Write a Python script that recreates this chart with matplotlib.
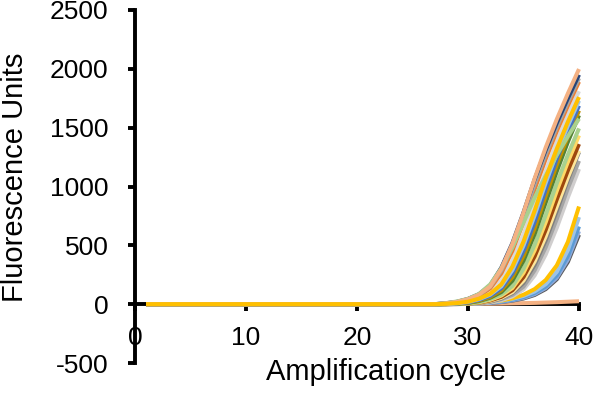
import matplotlib
matplotlib.use("Agg")
import matplotlib.pyplot as plt

# Amplifikationskurven (qPCR), Werte
cycles = list(range(1, 41))
baseline_1_27 = [0] * 27          # Zyklen 1-27 liegen alle bei ~0
# Zyklen 28-40 je Kurve
peach_1 = [7, 19, 42, 81, 151, 299, 514, 778, 1068, 1332, 1572, 1791, 1998]
navy_1 = [8, 20, 45, 85, 160, 310, 520, 780, 1060, 1310, 1540, 1750, 1950]
gray_1 = [7, 18, 41, 79, 148, 286, 488, 738, 1018, 1272, 1506, 1718, 1920]
orange_1 = [6, 16, 37, 71, 135, 262, 454, 699, 976, 1235, 1471, 1687, 1890]
green_1 = [9, 23, 45, 87, 168, 304, 484, 694, 905, 1092, 1268, 1427, 1576]
lightgray_1 = [4, 11, 27, 55, 103, 200, 370, 595, 865, 1130, 1380, 1605, 1810]
gold_1 = [3, 9, 21, 47, 88, 168, 320, 532, 794, 1072, 1321, 1550, 1760]
lightblue_1 = [3, 7, 19, 42, 81, 152, 290, 498, 754, 1032, 1285, 1517, 1729]
blue_1 = [2, 6, 16, 37, 71, 135, 262, 454, 699, 976, 1235, 1471, 1687]
olive_1 = [2, 5, 13, 31, 62, 118, 230, 410, 645, 920, 1185, 1425, 1645]
darkgreen_1 = [1, 4, 11, 27, 55, 103, 200, 370, 595, 865, 1130, 1380, 1605]
green_2 = [1, 3, 8, 19, 44, 82, 155, 301, 504, 757, 1028, 1271, 1494]
gold_2 = [1, 3, 7, 16, 37, 73, 137, 267, 457, 697, 964, 1210, 1434]
brown_1 = [1, 2, 6, 13, 32, 62, 118, 231, 406, 632, 891, 1137, 1361]
yellow_1 = [1, 2, 5, 11, 27, 54, 103, 201, 363, 577, 830, 1079, 1304]
darkgray_1 = [0, 1, 4, 10, 23, 49, 95, 181, 333, 542, 793, 1055, 1292]
gray_2 = [0, 1, 3, 7, 19, 42, 79, 149, 288, 484, 725, 986, 1218]
lightgray_2 = [0, 1, 2, 6, 15, 34, 66, 126, 244, 422, 650, 908, 1149]
lightblue_2 = [1, 3, 6, 10, 17, 28, 45, 70, 108, 170, 275, 460, 740]
blue_2 = [1, 2, 5, 9, 15, 24, 38, 60, 95, 150, 245, 410, 660]
steel_1 = [1, 2, 4, 7, 12, 20, 33, 53, 85, 138, 225, 380, 620]
darkgray_2 = [1, 2, 4, 7, 11, 18, 30, 48, 78, 128, 212, 360, 590]
gold_3 = [1, 3, 6, 11, 19, 31, 50, 80, 128, 205, 330, 530, 830]
salmon_flat = [0, 1, 2, 3, 4, 5, 7, 9, 11, 14, 17, 21, 25]

# Reihenfolge = Zeichenreihenfolge (letzte liegt oben)
series = [
    (salmon_flat, '#F4B183'),
    (darkgray_2, '#595959'),
    (steel_1, '#8FAADC'),
    (blue_2, '#5B9BD5'),
    (lightblue_2, '#9DC3E6'),
    (gold_3, '#FFC000'),
    (lightgray_2, '#D0CECE'),
    (gray_2, '#A5A5A5'),
    (darkgray_1, '#7F7F7F'),
    (yellow_1, '#FFE699'),
    (brown_1, '#9E480E'),
    (gold_2, '#FFD966'),
    (green_2, '#A9D18E'),
    (darkgreen_1, '#548235'),
    (olive_1, '#BF9000'),
    (blue_1, '#4472C4'),
    (lightblue_1, '#9DC3E6'),
    (lightgray_1, '#D9D9D9'),
    (orange_1, '#ED7D31'),
    (gray_1, '#A5A5A5'),
    (navy_1, '#264478'),
    (green_1, '#A9D18E'),
    (peach_1, '#F4B183'),
    (gold_1, '#FFC000'),
]

plt.rcParams['font.family'] = ['Liberation Sans', 'DejaVu Sans']
plt.rcParams['axes.unicode_minus'] = False

fig = plt.figure(figsize=(5.96, 3.98), dpi=100)
ax = fig.add_axes([0.2265, 0.0879, 0.745, 0.887])

for values, color in series:
    ax.plot(cycles, baseline_1_27 + values, color=color, lw=2.9,
            solid_capstyle='butt', clip_on=False)

ax.set_xlim(0, 40)
ax.set_ylim(-500, 2500)
ax.set_xticks([0, 10, 20, 30, 40])
ax.set_yticks([-500, 0, 500, 1000, 1500, 2000, 2500])

for side in ['top', 'right']:
    ax.spines[side].set_visible(False)
ax.spines['bottom'].set_position(('data', 0))
ax.spines['left'].set_position(('data', 0))
for side in ['bottom', 'left']:
    ax.spines[side].set_linewidth(2.8)
    ax.spines[side].set_zorder(0.5)

ax.tick_params(axis='x', direction='out', length=5, width=2.8, pad=11, labelsize=19)
ax.tick_params(axis='y', direction='out', length=5, width=2.8, pad=14, labelsize=19)

ax.set_xlabel('Amplification cycle', fontsize=21)
ax.set_ylabel('Fluorescence Units', fontsize=21)
ax.xaxis.set_label_coords(0.565, 0.014)
ax.yaxis.set_label_coords(-0.239, 0.527)

fig.savefig('out.png', dpi=100)
plt.close(fig)
